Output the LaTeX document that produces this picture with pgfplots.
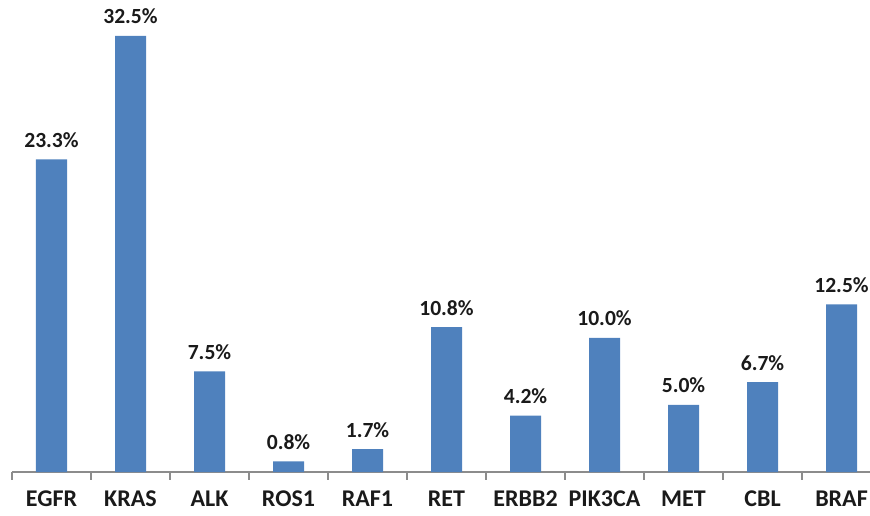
\documentclass[border=0pt]{standalone}
\usepackage{fontspec}
\setmainfont{Carlito}
\usepackage{pgfplots}
\pgfplotsset{compat=1.18}
\usepackage{pgfplotstable}
\definecolor{barblue}{HTML}{4F81BD}
\definecolor{axgray}{HTML}{8C8C8C}
\definecolor{txt}{HTML}{1A1A1A}
\pgfplotstableread{
x y lab
0 23.3 23.3\%
1 32.5 32.5\%
2 7.5 7.5\%
3 0.8 0.8\%
4 1.7 1.7\%
5 10.8 10.8\%
6 4.2 4.2\%
7 10.0 10.0\%
8 5.0 5.0\%
9 6.7 6.7\%
10 12.5 12.5\%
}\datatable
\begin{document}
\begin{tikzpicture}
\begin{axis}[
  at={(0,0)}, anchor=south west,
  scale only axis,
  x=39.5pt, y=6.71pt,
  xmin=-0.5, xmax=10.5, ymin=0, ymax=33,
  axis y line=none,
  axis x line*=bottom,
  x axis line style={draw=axgray, line width=0.8pt, -},
  xtick={0,...,10},
  xticklabels={EGFR,KRAS,ALK,ROS1,RAF1,RET,ERBB2,PIK3CA,MET,CBL,BRAF},
  major tick length=0pt,
  minor xtick={-0.5,0.5,...,10.5},
  minor tick length=3.8pt,
  tick align=outside,
  minor x tick style={draw=axgray, line width=0.8pt},
  xticklabel style={font=\fontsize{12}{14}\selectfont\bfseries, text=txt, anchor=base, yshift=-17pt},
  clip=false,
  ybar, bar width=15.5pt,
  nodes near coords,
  point meta=explicit symbolic,
  nodes near coords style={font=\fontsize{10.8}{13}\selectfont\bfseries, text=txt, anchor=base, yshift=6pt, inner sep=0pt},
]
\addplot[fill=barblue, draw=none, bar shift=0pt] table[x=x, y=y, meta=lab] {\datatable};
\end{axis}
\pgfresetboundingbox
\path (-6pt,-21.5pt) rectangle (429pt,236pt);
\end{tikzpicture}
\end{document}
